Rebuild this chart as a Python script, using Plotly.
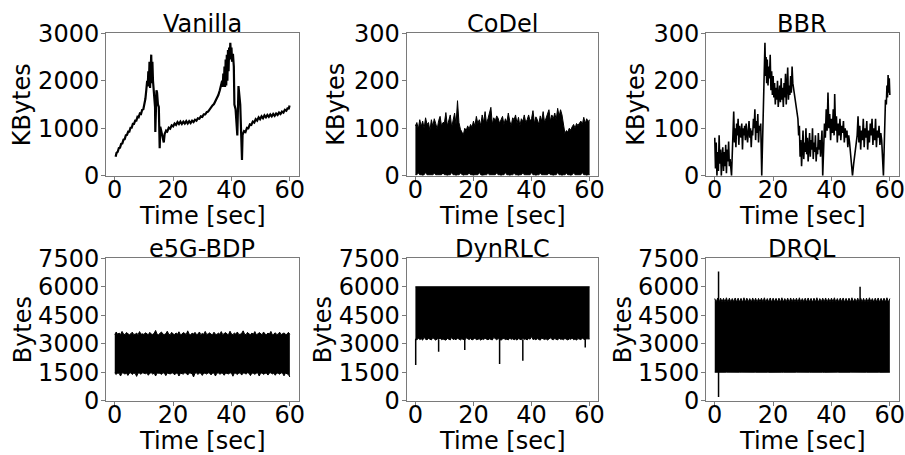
import plotly.graph_objects as go

W, H = 905, 455
FONT = "DejaVu Sans"
FS = 24

# ---------------- data ----------------
titles = ["Vanilla", "CoDel", "BBR", "e5G-BDP", "DynRLC", "DRQL"]
y_titles = ["KBytes", "KBytes", "KBytes", "Bytes", "Bytes", "Bytes"]
x_title = "Time [sec]"
x_ticks = [0, 20, 40, 60]
y_ticks_row1_vanilla = [0, 1000, 2000, 3000]
y_ticks_row1_small = [0, 100, 200, 300]
y_ticks_row2 = [0, 1500, 3000, 4500, 6000, 7500]

vanilla_t = [0.3, 0.6, 1.0, 1.4, 1.8, 2.2, 2.6, 3.0, 3.4, 3.8, 4.2, 4.6, 5.0, 5.4, 5.8, 6.2, 6.6, 7.0, 7.4, 7.8,
             8.2, 8.6, 9.0, 9.4, 9.8, 10.2, 10.5, 10.8, 11.1, 11.3, 11.5, 11.7, 11.9, 12.1, 12.3, 12.5, 12.7, 12.9,
             13.1, 13.3, 13.5, 13.8, 13.9, 14.3, 14.5, 14.8, 15.1, 15.4, 15.6, 15.9, 16.4, 16.8, 17.1, 17.6, 18.0,
             18.5, 19.0, 19.5, 20.0, 20.5, 21.0, 21.5, 22.0, 22.5, 23.0, 23.5, 24.0, 24.5, 25.0, 25.5, 26.0, 26.5,
             27.0, 27.5, 28.0, 28.5, 29.0, 29.5, 30.0, 30.5, 31.0, 31.5, 32.0, 32.5, 33.0, 33.5, 34.0, 34.5, 35.0,
             35.5, 36.0, 36.4, 36.8, 37.0, 37.2, 37.4, 37.6, 37.8, 38.0, 38.2, 38.4, 38.6, 38.8, 39.0, 39.2, 39.4,
             39.6, 39.8, 40.0, 40.2, 40.5, 40.8, 41.0, 41.4, 42.0, 42.4, 42.7, 43.0, 43.6, 43.8, 44.3, 44.8, 45.3,
             45.8, 46.3, 46.8, 47.3, 47.8, 48.3, 48.8, 49.3, 49.8, 50.3, 50.8, 51.3, 51.8, 52.3, 52.8, 53.3, 53.8,
             54.3, 54.8, 55.3, 55.8, 56.3, 56.8, 57.3, 57.8, 58.3, 58.8, 59.3, 59.6, 59.9]
vanilla_kb = [400, 480, 500, 580, 590, 670, 680, 760, 770, 850, 860, 930, 930, 1010, 1010, 1090, 1090, 1160, 1160, 1240,
              1230, 1310, 1300, 1390, 1400, 1520, 1620, 1800, 2000, 1880, 2200, 1900, 2400, 1850, 2300, 2550, 1950, 2400,
              2000, 1850, 1550, 1450, 920, 1800, 1750, 1500, 1450, 580, 1030, 950, 830, 700, 880, 950, 930,
              1010, 990, 1060, 1040, 1100, 1070, 1130, 1090, 1140, 1090, 1140, 1100, 1150, 1100, 1150, 1110, 1160,
              1130, 1180, 1160, 1210, 1200, 1250, 1240, 1290, 1290, 1340, 1350, 1400, 1420, 1480, 1510, 1580, 1620,
              1700, 1800, 1880, 2000, 1870, 2150, 1880, 2300, 1870, 2450, 1900, 2550, 2000, 2650, 2200, 2700, 2450,
              2800, 2550, 2700, 2400, 2570, 2300, 1500, 1400, 850, 1890, 1700, 1500, 330, 860, 940, 920, 1010,
              1000, 1080, 1070, 1140, 1120, 1190, 1160, 1230, 1190, 1250, 1210, 1270, 1230, 1280, 1240, 1290, 1250,
              1300, 1260, 1310, 1280, 1330, 1300, 1350, 1330, 1390, 1370, 1430, 1400, 1480]

bbr_t = [0.0, 0.25, 0.5, 0.75, 1.0, 1.25, 1.5, 1.75, 2.0, 2.25, 2.5, 2.75, 3.0, 3.25, 3.5, 3.75, 4.0, 4.25, 4.5, 4.75,
         5.0, 5.25, 5.75, 6.2, 6.5, 6.75, 7.0, 7.25, 7.5, 7.75, 8.0, 8.25, 8.5, 8.75, 9.0, 9.25, 9.5, 9.75, 10.0,
         10.25, 10.5, 10.75, 11.0, 11.25, 11.5, 11.75, 12.0, 12.25, 12.5, 12.75, 13.0, 13.25, 13.5, 13.75, 14.0,
         14.25, 14.5, 14.75, 15.0, 15.25, 15.5, 15.75, 16.1, 17.2, 17.4, 17.6, 17.8, 18.0, 18.25, 18.5, 18.75,
         19.0, 19.25, 19.5, 19.75, 20.0, 20.25, 20.5, 20.75, 21.0, 21.25, 21.5, 21.75, 22.0, 22.25, 22.5, 22.75,
         23.0, 23.25, 23.5, 23.75, 24.0, 24.25, 24.5, 24.75, 25.0, 25.25, 25.5, 25.75, 26.0, 26.25, 26.5, 26.75,
         27.0, 28.5, 28.75, 29.0, 29.25, 29.5, 29.75, 30.0, 30.25, 30.5, 30.75, 31.0, 31.25, 31.5, 31.75, 32.0,
         32.25, 32.5, 32.75, 33.0, 33.25, 33.5, 33.75, 34.0, 34.25, 34.5, 34.75, 35.0, 35.25, 35.5, 35.75, 36.0,
         36.25, 36.5, 36.75, 37.0, 37.6, 37.9, 38.2, 38.5, 38.8, 39.1, 39.4, 39.7, 40.0, 40.3, 40.6, 40.9, 41.1,
         41.4, 41.7, 42.0, 42.3, 42.6, 42.9, 43.2, 43.5, 43.8, 44.1, 44.4, 44.7, 45.0, 45.3, 45.6, 45.9, 46.2,
         47.2, 47.6, 48.0, 48.5, 48.8, 49.1, 49.4, 49.7, 50.0, 50.3, 50.6, 50.9, 51.2, 51.5, 51.8, 52.1, 52.4,
         52.7, 53.0, 53.3, 53.6, 53.9, 54.2, 54.5, 54.8, 55.1, 55.4, 55.7, 56.0, 56.3, 56.6, 56.9, 57.2, 57.8,
         58.2, 58.5, 58.8, 59.0, 59.2, 59.4, 59.6, 59.8, 60.0]
bbr_kb = [80, 15, 70, 0, 50, 10, 85, 25, 55, 0, 40, 60, 10, 50, 20, 65, 5, 55, 30, 72,
          20, 35, 0, 90, 135, 70, 100, 60, 110, 85, 120, 65, 105, 90, 80, 110, 55, 100, 85,
          105, 75, 110, 90, 70, 95, 115, 80, 100, 60, 95, 85, 120, 100, 140, 75,
          115, 90, 130, 70, 105, 95, 110, 0, 280, 210, 250, 195, 245, 190, 230, 205,
          255, 180, 220, 170, 210, 165, 195, 150, 185, 160, 200, 145, 175, 190, 155, 205,
          160, 185, 145, 195, 165, 215, 150, 180, 228, 160, 190, 170, 210, 175, 230, 195,
          185, 120, 85, 105, 40, 75, 20, 60, 95, 35, 70, 50, 100, 45, 80, 30,
          65, 90, 40, 75, 55, 100, 35, 70, 50, 85, 30, 60, 45, 90, 55, 75,
          40, 65, 95, 0, 110, 80, 140, 95, 175, 100, 130, 75, 120, 90, 140, 85, 172,
          95, 125, 70, 110, 85, 120, 75, 105, 90, 115, 70, 100, 80, 95, 60, 85, 70,
          0, 25, 45, 60, 85, 125, 70, 105, 55, 95, 75, 120, 60, 100, 80, 115, 55,
          95, 70, 110, 85, 120, 65, 100, 75, 120, 60, 95, 80, 105, 65, 90, 75, 0,
          140, 160, 150, 190, 165, 212, 175, 205, 170]

# time grid (0.5 s) for the dense, band-like series
band_t = [i * 0.5 for i in range(121)]

codel_upper_kb = [105, 112, 98, 118, 104, 115, 100, 122, 108, 112,
                  95, 118, 104, 120, 110, 98, 116, 125, 105, 112,
                  112, 133, 105, 118, 128, 102, 120, 132, 108, 158,
                  112, 98, 92, 86, 100, 95, 105, 98, 108, 102,
                  115, 104, 125, 110, 118, 106, 128, 112, 135, 110,
                  120, 132, 144, 108, 122, 115, 126, 121, 110, 118,
                  125, 108, 120, 112, 132, 115, 105, 122, 118, 128,
                  110, 123, 105, 120, 114, 128, 112, 118, 128, 115,
                  120, 137, 110, 124, 118, 108, 126, 115, 135, 112,
                  122, 130, 139, 115, 128, 120, 132, 118, 142, 125,
                  139, 128, 105, 89, 95, 92, 100, 96, 103, 108,
                  100, 110, 106, 112, 115, 108, 123, 110, 120, 114,
                  118]
codel_lower_kb = [2, 2, 6, 2, 2, 1, 2, 7, 2, 2,
                  1, 2, 2, 5, 2, 2, 2, 1, 2, 6,
                  2, 2, 1, 2, 2, 7, 2, 2, 1, 2,
                  2, 5, 2, 1, 2, 2, 2, 6, 2, 2,
                  1, 2, 2, 2, 7, 2, 1, 2, 2, 2,
                  5, 2, 2, 1, 2, 2, 6, 2, 2, 1,
                  2, 2, 7, 2, 2, 1, 2, 2, 5, 2,
                  2, 1, 2, 2, 6, 2, 2, 2, 1, 2,
                  7, 2, 2, 1, 2, 2, 5, 2, 2, 2,
                  1, 2, 6, 2, 2, 1, 2, 2, 7, 2,
                  2, 1, 2, 2, 5, 2, 2, 1, 2, 6,
                  2, 2, 1, 2, 2, 7, 2, 2, 1, 2,
                  2]

e5g_upper = [3480, 3620, 3500, 3560, 3490, 3650, 3510, 3480, 3590, 3500,
             3470, 3530, 3610, 3490, 3500, 3560, 3480, 3640, 3500, 3520,
             3490, 3580, 3500, 3470, 3600, 3510, 3490, 3550, 3700, 3500,
             3480, 3560, 3620, 3500, 3490, 3530, 3660, 3500, 3480, 3600,
             3510, 3490, 3570, 3500, 3630, 3480, 3500, 3590, 3520, 3490,
             3680, 3500, 3470, 3560, 3510, 3600, 3490, 3500, 3620, 3480,
             3540, 3500, 3650, 3490, 3510, 3580, 3500, 3470, 3610, 3500,
             3490, 3560, 3500, 3640, 3480, 3520, 3590, 3500, 3490, 3660,
             3510, 3480, 3570, 3500, 3620, 3490, 3500, 3550, 3680, 3500,
             3480, 3600, 3510, 3490, 3560, 3500, 3640, 3480, 3510, 3590,
             3500, 3470, 3620, 3500, 3490, 3560, 3510, 3650, 3480, 3500,
             3580, 3490, 3500, 3610, 3480, 3520, 3570, 3500, 3490, 3600,
             3500]
e5g_lower = [1450, 1380, 1460, 1440, 1300, 1470, 1450, 1400, 1460, 1330,
             1450, 1470, 1380, 1450, 1440, 1280, 1460, 1450, 1390, 1470,
             1450, 1420, 1460, 1340, 1450, 1470, 1400, 1450, 1300, 1460,
             1440, 1450, 1380, 1470, 1450, 1320, 1460, 1440, 1410, 1450,
             1470, 1360, 1450, 1460, 1300, 1450, 1440, 1400, 1470, 1450,
             1350, 1460, 1450, 1420, 1250, 1450, 1470, 1380, 1460, 1450,
             1330, 1460, 1440, 1400, 1470, 1450, 1360, 1450, 1460, 1300,
             1450, 1470, 1390, 1450, 1440, 1340, 1460, 1450, 1410, 1470,
             1450, 1290, 1460, 1440, 1380, 1450, 1470, 1350, 1460, 1450,
             1400, 1470, 1450, 1320, 1460, 1440, 1390, 1450, 1470, 1300,
             1450, 1460, 1380, 1450, 1440, 1350, 1460, 1470, 1410, 1450,
             1340, 1460, 1450, 1390, 1470, 1450, 1310, 1460, 1440, 1380,
             1250]

dynrlc_upper = [6000, 6000, 6010, 6000, 6000, 6030, 6000, 6000, 6000, 6010,
                6000, 6020, 6000, 6000, 6000, 6000, 6030, 6000, 6000, 6000,
                6010, 6000, 6000, 6000, 6020, 6000, 6000, 6000, 6000, 6030,
                6000, 6000, 6010, 6000, 6000, 6000, 6000, 6020, 6000, 6000,
                6000, 6030, 6000, 6000, 6000, 6010, 6000, 6000, 6000, 6000,
                6020, 6000, 6000, 6000, 6030, 6000, 6000, 6010, 6000, 6000,
                6000, 6000, 6020, 6000, 6000, 6000, 6000, 6030, 6000, 6000,
                6010, 6000, 6000, 6000, 6000, 6020, 6000, 6000, 6000, 6030,
                6000, 6000, 6000, 6010, 6000, 6000, 6020, 6000, 6000, 6000,
                6000, 6030, 6000, 6000, 6010, 6000, 6000, 6000, 6020, 6000,
                6000, 6000, 6030, 6000, 6000, 6000, 6010, 6000, 6000, 6020,
                6000, 6000, 6000, 6000, 6030, 6000, 6000, 6010, 6000, 6000,
                6000]
dynrlc_lower = [3250, 3200, 3300, 3220, 3260, 3190, 3350, 3230, 3210, 3280,
                3240, 3200, 3320, 3230, 3190, 3260, 3240, 3300, 3210, 3250,
                3230, 3190, 3280, 3240, 3200, 3340, 3220, 3250, 3210, 3290,
                3230, 3200, 3260, 3240, 3190, 3310, 3250, 3220, 3270, 3200,
                3240, 3300, 3210, 3230, 3260, 3190, 3250, 3220, 3290, 3240,
                3210, 3260, 3230, 3200, 3330, 3240, 3210, 3270, 3230, 3190,
                3250, 3280, 3220, 3240, 3200, 3300, 3230, 3260, 3210, 3250,
                3190, 3270, 3240, 3210, 3300, 3230, 3250, 3200, 3280, 3240,
                3380, 3220, 3250, 3210, 3270, 3230, 3190, 3300, 3240, 3220,
                3260, 3200, 3250, 3310, 3230, 3210, 3270, 3240, 3200, 3290,
                3230, 3250, 3210, 3280, 3240, 3200, 3260, 3230, 3300, 3210,
                3250, 3190, 3270, 3240, 3220, 3290, 3230, 3200, 3260, 3240,
                3250]
dynrlc_spike_t = [0.1, 8.0, 17.0, 29.0, 37.0, 58.5]
dynrlc_spike_base = [3250, 3240, 3230, 3230, 3240, 3230]
dynrlc_spike_v = [1880, 2580, 2670, 1930, 2110, 2800]

drql_upper = [5380, 5200, 5410, 5190, 5400, 5210, 5390, 5200, 5420, 5180,
              5400, 5200, 5380, 5210, 5410, 5190, 5400, 5200, 5390, 5180,
              5420, 5200, 5400, 5210, 5380, 5190, 5410, 5200, 5400, 5180,
              5390, 5210, 5400, 5200, 5420, 5190, 5380, 5200, 5410, 5180,
              5400, 5210, 5390, 5200, 5400, 5190, 5420, 5200, 5380, 5210,
              5400, 5180, 5410, 5200, 5390, 5200, 5400, 5190, 5420, 5200,
              5380, 5210, 5400, 5190, 5410, 5200, 5390, 5180, 5400, 5200,
              5420, 5190, 5380, 5210, 5400, 5200, 5410, 5180, 5390, 5200,
              5400, 5210, 5420, 5190, 5380, 5200, 5400, 5210, 5410, 5180,
              5390, 5200, 5400, 5190, 5420, 5200, 5380, 5210, 5400, 5190,
              5410, 5200, 5390, 5180, 5400, 5200, 5420, 5210, 5380, 5190,
              5400, 5200, 5410, 5180, 5390, 5210, 5400, 5200, 5420, 5190,
              5380]
drql_lower = [1500, 1495, 1500, 1505, 1500, 1495, 1500, 1500, 1505, 1500,
              1495, 1500, 1500, 1505, 1500, 1500, 1495, 1500, 1505, 1500,
              1500, 1495, 1500, 1500, 1505, 1500, 1495, 1500, 1500, 1505,
              1500, 1500, 1495, 1500, 1505, 1500, 1500, 1495, 1500, 1500,
              1505, 1500, 1495, 1500, 1500, 1505, 1500, 1500, 1495, 1500,
              1500, 1505, 1500, 1495, 1500, 1500, 1505, 1500, 1500, 1495,
              1500, 1500, 1505, 1500, 1495, 1500, 1500, 1505, 1500, 1500,
              1495, 1500, 1500, 1505, 1500, 1495, 1500, 1500, 1505, 1500,
              1500, 1495, 1500, 1500, 1505, 1500, 1495, 1500, 1500, 1505,
              1500, 1500, 1495, 1500, 1505, 1500, 1500, 1495, 1500, 1500,
              1505, 1500, 1495, 1500, 1500, 1505, 1500, 1500, 1495, 1500,
              1500, 1505, 1500, 1495, 1500, 1500, 1505, 1500, 1500, 1495,
              1500]
drql_spike_t = [1.3, 49.8]
drql_spike_low = [200, 5200]
drql_spike_high = [6800, 6000]

# ---------------- layout geometry (pixels) ----------------
col_px = [(106.0, 298.6), (406.7, 598.3), (706.0, 898.6)]
row_px = [(33.3, 175.7), (258.3, 400.7)]
y_ranges = [[0, 3000], [0, 300], [0, 300], [0, 7500], [0, 7500], [0, 7500]]
y_tickvals = [y_ticks_row1_vanilla, y_ticks_row1_small, y_ticks_row1_small,
              y_ticks_row2, y_ticks_row2, y_ticks_row2]
ytitle_x_px = [22.8, 336.3, 636.3, 22.8, 322.8, 622.8]

fig = go.Figure()
BLACK = "black"


def axref(i):
    return ("x" if i == 1 else f"x{i}"), ("y" if i == 1 else f"y{i}")


def line(i, x, y, width=1.0):
    xa, ya = axref(i)
    fig.add_trace(go.Scatter(x=x, y=y, mode="lines", xaxis=xa, yaxis=ya,
                             line=dict(color=BLACK, width=width), showlegend=False,
                             hoverinfo="skip"))


def band(i, t, lo, hi):
    xa, ya = axref(i)
    fig.add_trace(go.Scatter(x=t, y=lo, mode="lines", xaxis=xa, yaxis=ya,
                             line=dict(color=BLACK, width=1), showlegend=False, hoverinfo="skip"))
    fig.add_trace(go.Scatter(x=t, y=hi, mode="lines", xaxis=xa, yaxis=ya, fill="tonexty",
                             fillcolor=BLACK, line=dict(color=BLACK, width=1),
                             showlegend=False, hoverinfo="skip"))


def spikes(i, ts, a, b):
    xs, ys = [], []
    for t, y0, y1 in zip(ts, a, b):
        xs += [t, t, None]
        ys += [y0, y1, None]
    line(i, xs, ys, width=1.5)


line(1, vanilla_t, vanilla_kb, width=2.2)
band(2, band_t, codel_lower_kb, codel_upper_kb)
line(3, bbr_t, bbr_kb, width=1.6)
band(4, band_t, e5g_lower, e5g_upper)
band(5, band_t, dynrlc_lower, dynrlc_upper)
spikes(5, dynrlc_spike_t, dynrlc_spike_base, dynrlc_spike_v)
band(6, band_t, drql_lower, drql_upper)
spikes(6, drql_spike_t, drql_spike_low, drql_spike_high)

tickfont = dict(family=FONT, size=FS, color=BLACK)
axis_common = dict(showline=True, mirror=True, linecolor="#7a7a7a", linewidth=1,
                   ticks="outside", ticklen=4, tickwidth=1, tickcolor="#7a7a7a",
                   showgrid=False, zeroline=False, tickfont=tickfont, fixedrange=True,
                   automargin=False, ticklabeloverflow="allow")

annotations = []
layout = {}
for i in range(1, 7):
    r, c = (i - 1) // 3, (i - 1) % 3
    x0, x1 = col_px[c]
    yt, yb = row_px[r]
    xd = [x0 / W, x1 / W]
    yd = [1 - yb / H, 1 - yt / H]
    xa, ya = axref(i)
    xkey = "xaxis" if i == 1 else f"xaxis{i}"
    ykey = "yaxis" if i == 1 else f"yaxis{i}"
    layout[xkey] = dict(domain=xd, range=[-3, 63], tickvals=x_ticks, anchor=ya,
                        ticklabelstandoff=-12, **axis_common)
    layout[ykey] = dict(domain=yd, range=y_ranges[i - 1], tickvals=y_tickvals[i - 1], anchor=xa,
                        ticklabelstandoff=-3, **axis_common)
    cx = (x0 + x1) / 2
    cy = (yt + yb) / 2
    # subplot title
    annotations.append(dict(text=titles[i - 1], x=cx / W, y=1 - (yt - 9.5) / H, xref="paper",
                            yref="paper", showarrow=False, xanchor="center", yanchor="middle",
                            font=dict(family=FONT, size=FS, color=BLACK)))
    # x-axis title
    annotations.append(dict(text=x_title, x=cx / W, y=1 - (yb + 40) / H, xref="paper",
                            yref="paper", showarrow=False, xanchor="center", yanchor="middle",
                            font=dict(family=FONT, size=FS, color=BLACK)))
    # y-axis title
    annotations.append(dict(text=y_titles[i - 1], x=ytitle_x_px[i - 1] / W, y=1 - cy / H,
                            xref="paper", yref="paper", showarrow=False, textangle=-90,
                            xanchor="center", yanchor="middle",
                            font=dict(family=FONT, size=FS, color=BLACK)))

fig.update_layout(template="none", width=W, height=H, margin=dict(l=0, r=0, t=0, b=0),
                  paper_bgcolor="white", plot_bgcolor="white",
                  font=dict(family=FONT, size=FS, color=BLACK),
                  annotations=annotations, showlegend=False, **layout)

fig.write_html("out.html", config={"displayModeBar": False})
